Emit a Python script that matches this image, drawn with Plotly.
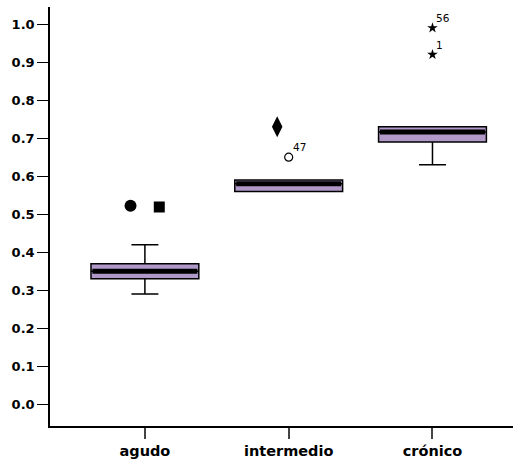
import plotly.graph_objects as go

categories = ["agudo", "intermedio", "crónico"]
q1 = [0.33, 0.56, 0.69]
median = [0.35, 0.58, 0.716]
q3 = [0.37, 0.59, 0.73]
lower = [0.29, 0.56, 0.63]
upper = [0.42, 0.59, 0.73]

# extra points: (category index, offset, value, symbol, label)
extra_x = [0, 0, 1, 1, 2, 2]
extra_off = [-0.1, 0.1, -0.08, 0.0, 0.0, 0.0]
extra_y = [0.522, 0.519, 0.73, 0.65, 0.99, 0.92]
extra_sym = ["circle", "square", "diamond-tall", "circle-open", "star", "star"]
extra_size = [12, 11, 15, 8, 8, 8]
extra_lbl = ["", "", "", "47", "56", "1"]

yticks = [0.0, 0.1, 0.2, 0.3, 0.4, 0.5, 0.6, 0.7, 0.8, 0.9, 1.0]

BOXW = 0.75
FILL = "#B098C8"

fig = go.Figure()
for i, c in enumerate(categories):
    fig.add_trace(go.Box(
        x=[i], q1=[q1[i]], median=[median[i]], q3=[q3[i]],
        lowerfence=[lower[i]], upperfence=[upper[i]],
        width=BOXW, whiskerwidth=0.25, fillcolor=FILL,
        line=dict(color="black", width=1.5), boxpoints=False,
        hoverinfo="skip", showlegend=False, name=c,
    ))
    fig.add_trace(go.Scatter(
        x=[i - BOXW / 2 + 0.01, i + BOXW / 2 - 0.01], y=[median[i], median[i]],
        mode="lines", line=dict(color="black", width=5),
        hoverinfo="skip", showlegend=False,
    ))

for k in range(len(extra_y)):
    xv = extra_x[k] + extra_off[k]
    open_ = extra_sym[k].endswith("open")
    fig.add_trace(go.Scatter(
        x=[xv], y=[extra_y[k]], mode="markers",
        marker=dict(symbol=extra_sym[k], size=extra_size[k], color="black",
                    line=dict(color="black", width=1.2 if open_ else 0)),
        hoverinfo="skip", showlegend=False,
    ))
    if extra_lbl[k]:
        fig.add_annotation(
            x=xv, y=extra_y[k], text=extra_lbl[k], showarrow=False,
            xanchor="left", yanchor="bottom", xshift=2, yshift=2,
            font=dict(family="DejaVu Sans", size=10.5, color="black"),
        )

fig.update_layout(
    width=513, height=461,
    margin=dict(l=50, r=0, t=7, b=35),
    paper_bgcolor="white", plot_bgcolor="white",
    xaxis=dict(
        range=[-0.66, 2.56], tickmode="array", tickvals=[0, 1, 2],
        ticktext=categories, showgrid=False, zeroline=False,
        showline=True, linecolor="black", linewidth=1.5,
        ticks="outside", ticklen=11, tickwidth=1.5, tickcolor="#444",
        tickfont=dict(family="DejaVu Sans", size=14.5, color="black", weight="bold"),
    ),
    yaxis=dict(
        range=[-0.057, 1.045], tickmode="array", tickvals=yticks,
        ticktext=[f"{v:.1f}" for v in yticks], showgrid=False, zeroline=False,
        showline=True, linecolor="black", linewidth=1.5,
        ticks="outside", ticklen=11, tickwidth=1, tickcolor="black",
        tickfont=dict(family="DejaVu Sans", size=13, color="black", weight="bold"),
    ),
)

fig.write_html("out.html", config={"displayModeBar": False},
               post_script="document.body.style.margin='0';document.body.style.overflow='hidden';")
